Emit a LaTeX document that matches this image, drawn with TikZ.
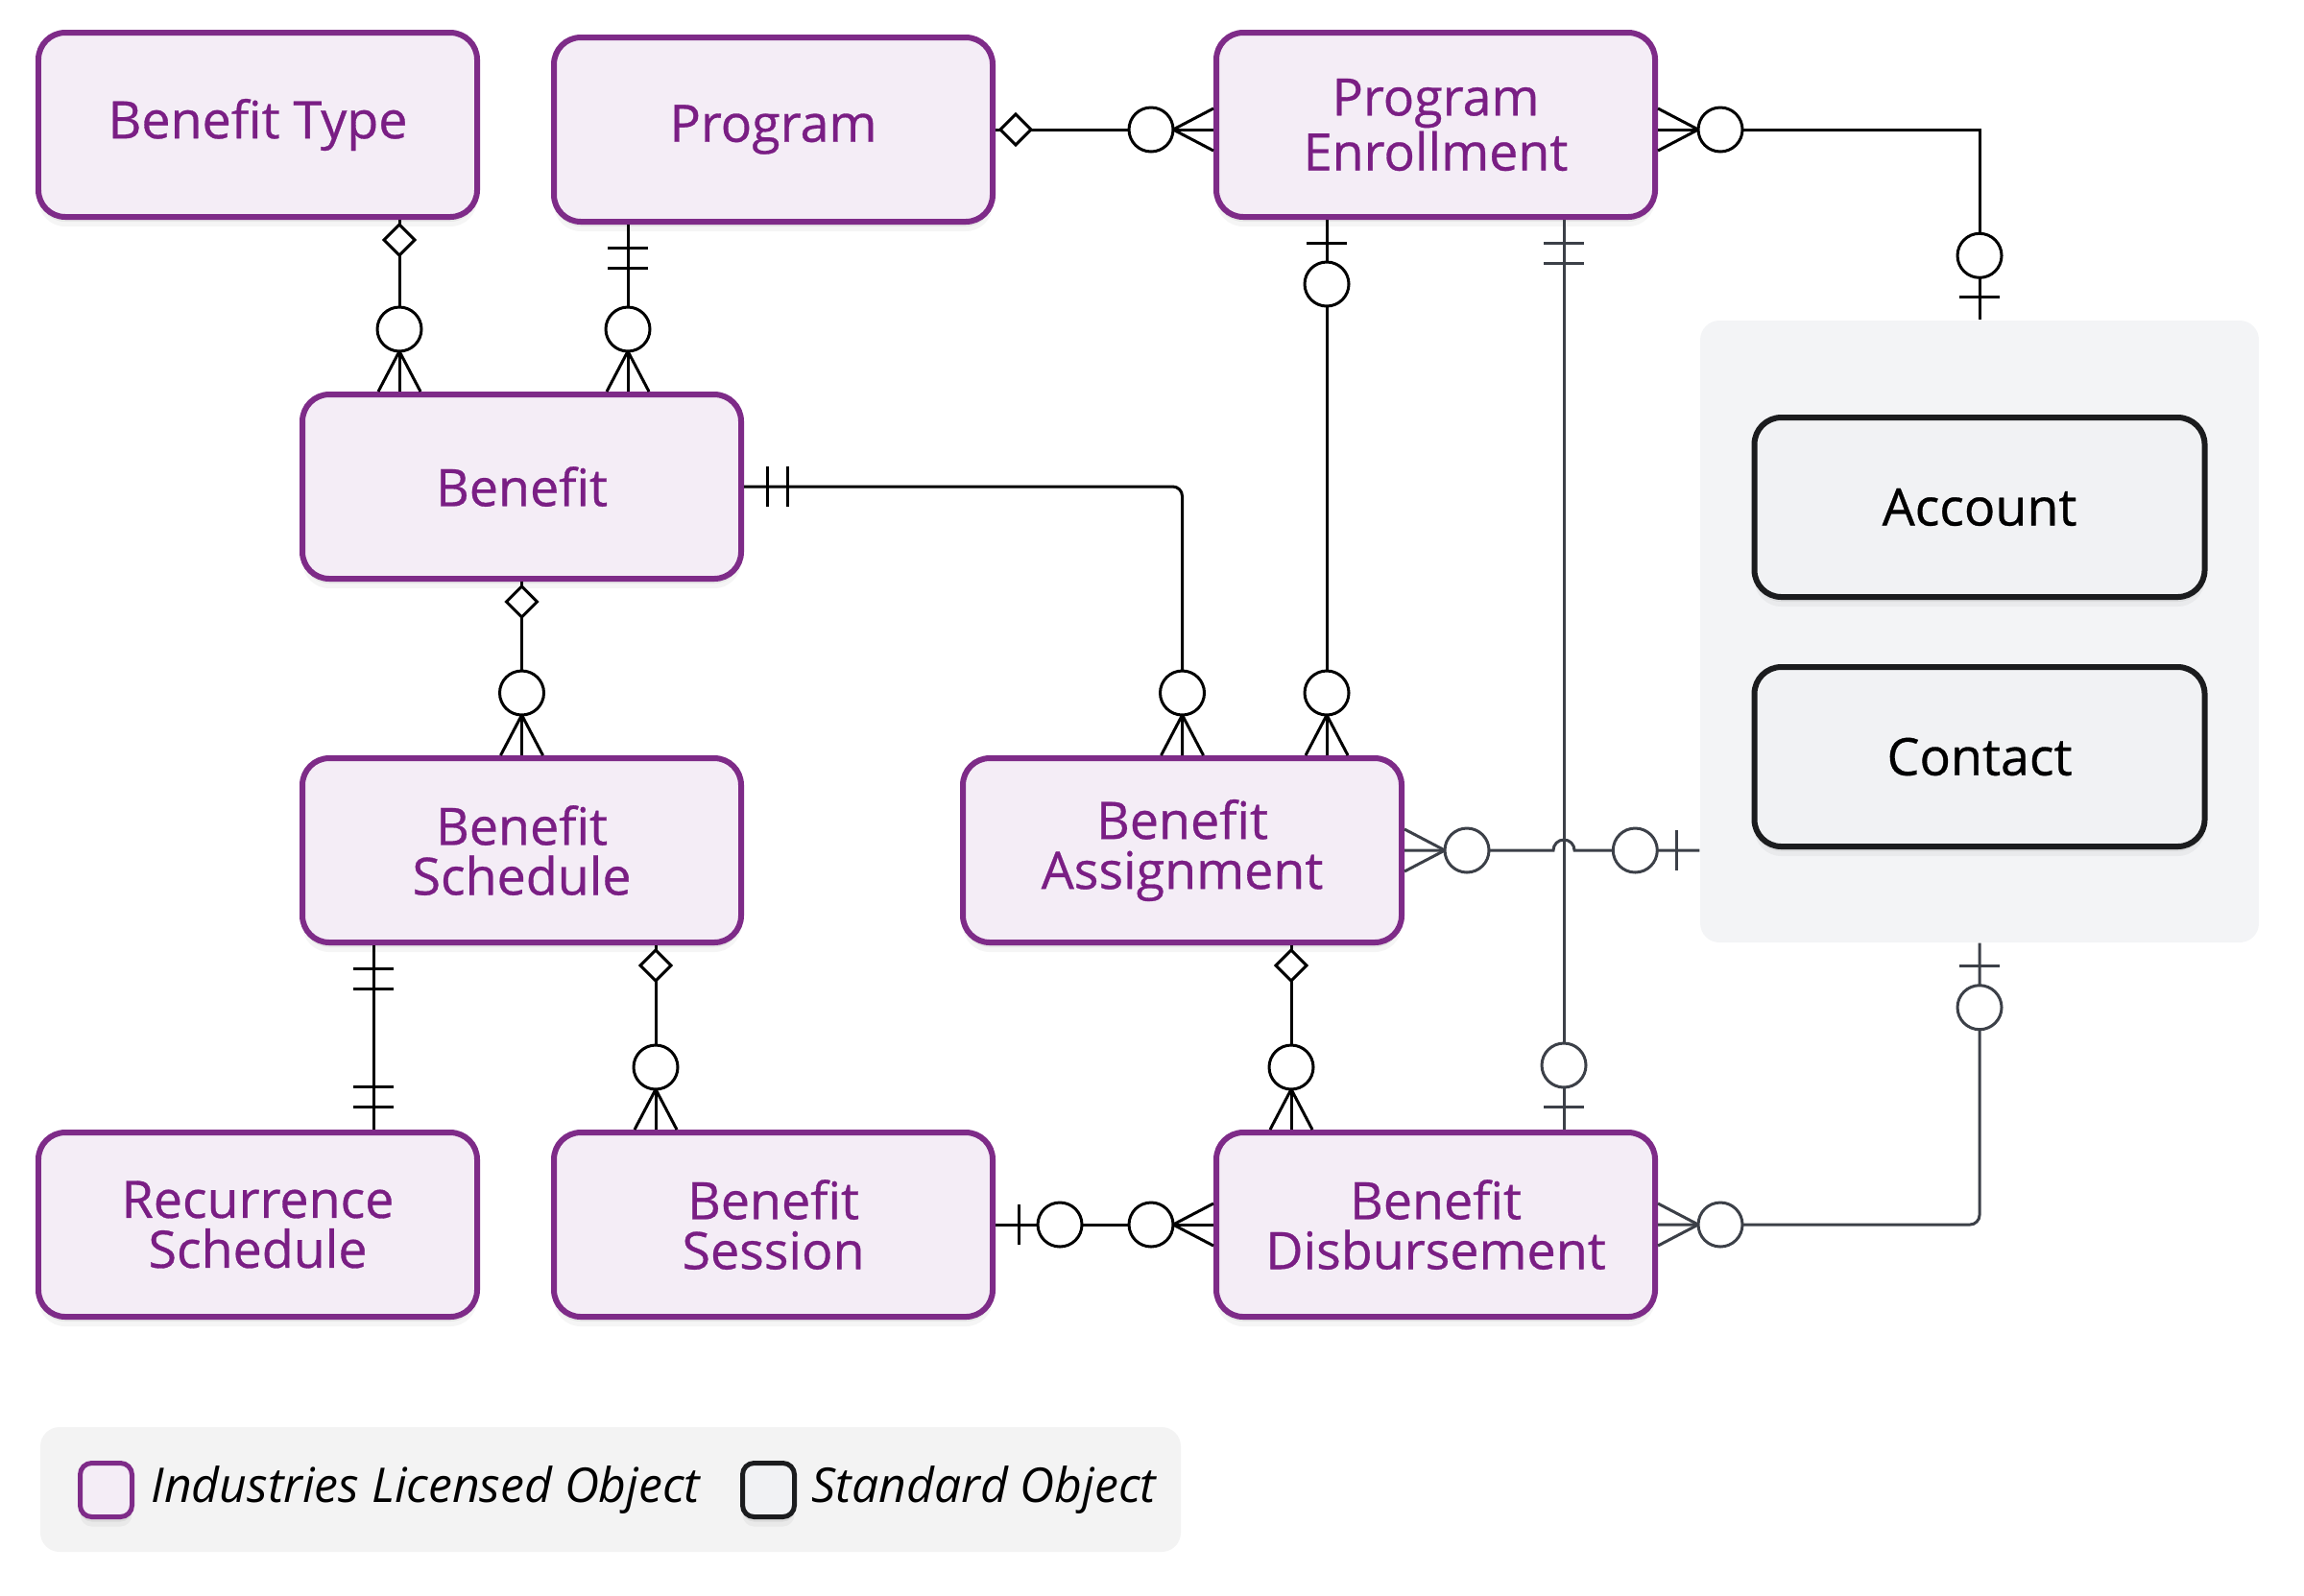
\documentclass[tikz,border=0pt]{standalone}
\usepackage{fontspec}
\setmainfont{Open Sans}
\newfontfamily\boxfont{Open Sans}[FakeBold=0.6]
\usetikzlibrary{calc}
\usetikzlibrary{positioning, shadows, decorations.markings}

\definecolor{ilopurple}{HTML}{7E2B88}
\definecolor{ilofill}{HTML}{F4EDF6}
\definecolor{ilotext}{HTML}{7A1E84}
\definecolor{stdborder}{HTML}{1B1C1E}
\definecolor{stdfill}{HTML}{F1F2F4}
\definecolor{groupfill}{HTML}{F3F4F6}
\definecolor{legendfill}{HTML}{F3F3F3}
\definecolor{linegray}{HTML}{3C4048}

% Ký hiệu quan hệ (trục x hướng ra ngoài hộp)
\newcommand{\mkzmany}{\draw (0,0.22) -- (0.42,0) -- (0,-0.22); \draw[fill=white] (0.65,0) circle (0.23);}
\newcommand{\mkzone}{\draw (0.24,0.21) -- (0.24,-0.21); \draw[fill=white] (0.67,0) circle (0.23);}
\newcommand{\mkone}{\draw (0.24,0.21) -- (0.24,-0.21) (0.45,0.21) -- (0.45,-0.21);}
\newcommand{\mkagg}{\draw[fill=white] (0.05,0) -- (0.21,0.16) -- (0.37,0) -- (0.21,-0.16) -- cycle;}

\begin{document}
\begin{tikzpicture}[
    softshadow/.style={
      general shadow={fill=black, opacity=0.06, shadow yshift=-0.05cm},
      general shadow={fill=black, opacity=0.04, shadow yshift=-0.1cm}
    },
    ilo/.style={
      rectangle,
      rounded corners=0.28cm,
      minimum width=4.57cm,
      minimum height=1.92cm,
      draw=ilopurple,
      fill=ilofill,
      line width=0.06cm,
      text=ilotext,
      align=center,
      font=\boxfont\fontsize{15.3}{14.8}\selectfont,
      softshadow
    },
    std/.style={
      ilo,
      draw=stdborder,
      fill=stdfill,
      text=black,
      minimum width=4.69cm,
      minimum height=1.87cm
    },
    grouparea/.style={
      rectangle,
      rounded corners=0.2cm,
      fill=groupfill,
      minimum width=5.82cm,
      minimum height=6.48cm
    },
    legendbg/.style={
      rectangle,
      rounded corners=0.2cm,
      fill=legendfill,
      minimum width=11.88cm,
      minimum height=1.3cm
    },
    keybox/.style={
      rectangle,
      rounded corners=0.12cm,
      line width=0.05cm,
      minimum width=0.54cm,
      minimum height=0.56cm,
      inner sep=0pt,
      softshadow
    },
    keytext/.style={
      inner sep=0pt,
      font=\fontsize{14.2}{16}\selectfont\itshape
    },
    conn/.style={
      line width=0.03cm,
      color=black
    },
    startmk/.style={
      postaction={decorate, decoration={markings,
        mark=at position 0 with {\begin{scope}[sharp corners]#1\end{scope}}}}
    },
    endmk/.style={
      postaction={decorate, decoration={markings,
        mark=at position 1 with {\begin{scope}[xscale=-1, sharp corners]#1\end{scope}}}}
    }
  ]

  \useasboundingbox (0,0) rectangle (24,-16.62);

  % Các node - Hàng trên
  \node[ilo] (btype) at (2.685,-1.30) {Benefit Type};
  \node[ilo, right=0.74cm of btype, yshift=-0.05cm] (program) {Program};
  \node[ilo, right=2.27cm of program, yshift=0.05cm] (penroll) {Program\\Enrollment};

  % Hàng giữa
  \node[ilo] (benefit) at (5.435,-5.07) {Benefit};
  \node[ilo, below=1.81cm of benefit] (bsched) {Benefit\\Schedule};
  \node[ilo, right=2.25cm of bsched] (bassign) {Benefit\\Assignment};

  % Hàng dưới
  \node[ilo] (recur) at (2.685,-12.76) {Recurrence\\Schedule};
  \node[ilo, right=0.74cm of recur] (bsession) {Benefit\\Session};
  \node[ilo, right=2.27cm of bsession] (bdisb) {Benefit\\Disbursement};

  % Nhóm đối tượng chuẩn
  \node[grouparea] (stdgroup) at (20.62,-6.58) {};
  \node[std] (account) at ([yshift=1.295cm]stdgroup.center) {Account};
  \node[std, below=0.67cm of account] (contact) {Contact};

  % Điểm nối phụ
  \coordinate (bt1) at ([xshift=1.475cm]btype.south);
  \coordinate (pr1) at ([xshift=-1.515cm]program.south);
  \coordinate (pe1) at ([xshift=-1.135cm]penroll.south);
  \coordinate (pe2) at ([xshift=1.335cm]penroll.south);
  \coordinate (bs1) at ([xshift=-1.545cm]bsched.south);
  \coordinate (bs2) at ([xshift=1.395cm]bsched.south);
  \coordinate (ba1) at ([xshift=1.135cm]bassign.south);
  \coordinate (hop) at (pe2 |- bassign.east);

  % Các đường nối
  \draw[conn, startmk=\mkagg, endmk=\mkzmany] (bt1) -- (bt1 |- benefit.north);
  \draw[conn, startmk=\mkone, endmk=\mkzmany] (pr1) -- (pr1 |- benefit.north);
  \draw[conn, startmk=\mkagg, endmk=\mkzmany] (program.east) -- (program.east -| penroll.west);
  \draw[conn, startmk=\mkzmany, endmk=\mkzone] (penroll.east |- program.east) -| (stdgroup.north);
  \draw[conn, startmk=\mkzone, endmk=\mkzmany] (pe1) -- (pe1 |- bassign.north);
  \draw[conn, rounded corners=0.1cm, startmk=\mkone, endmk=\mkzmany] (benefit.east) -| (bassign.north);
  \draw[conn, startmk=\mkagg, endmk=\mkzmany] (benefit.south) -- (bsched.north);
  \draw[conn, color=linegray, startmk=\mkone, endmk=\mkzone] (pe2) -- (pe2 |- bdisb.north);
  \draw[conn, color=linegray, startmk=\mkzmany, endmk=\mkzone] (bassign.east) -- ([xshift=-0.11cm]hop)
    arc[start angle=180, end angle=0, radius=0.11cm] -- (stdgroup.west |- bassign.east); % nhảy qua đường dọc
  \draw[conn, startmk=\mkone, endmk=\mkone] (bs1) -- (bs1 |- recur.north);
  \draw[conn, startmk=\mkagg, endmk=\mkzmany] (bs2) -- (bs2 |- bsession.north);
  \draw[conn, startmk=\mkagg, endmk=\mkzmany] (ba1) -- (ba1 |- bdisb.north);
  \draw[conn, startmk=\mkzone, endmk=\mkzmany] (bsession.east) -- (bdisb.west);
  \draw[conn, color=linegray, rounded corners=0.1cm, startmk=\mkzmany, endmk=\mkzone] (bdisb.east) -| (stdgroup.south);

  % Chú thích
  \node[legendbg] (legend) at (6.36,-15.52) {};
  \node[keybox, draw=ilopurple, fill=ilofill] (keyilo) at (1.105,-15.525) {};
  \node[keytext, right=0.17cm of keyilo] (keyilotxt) {Industries Licensed Object};
  \node[keybox, draw=stdborder, fill=stdfill] (keystd) at (8.005,-15.525) {};
  \node[keytext, right=0.15cm of keystd] (keystdtxt) {Standard Object};

\end{tikzpicture}
\end{document}
